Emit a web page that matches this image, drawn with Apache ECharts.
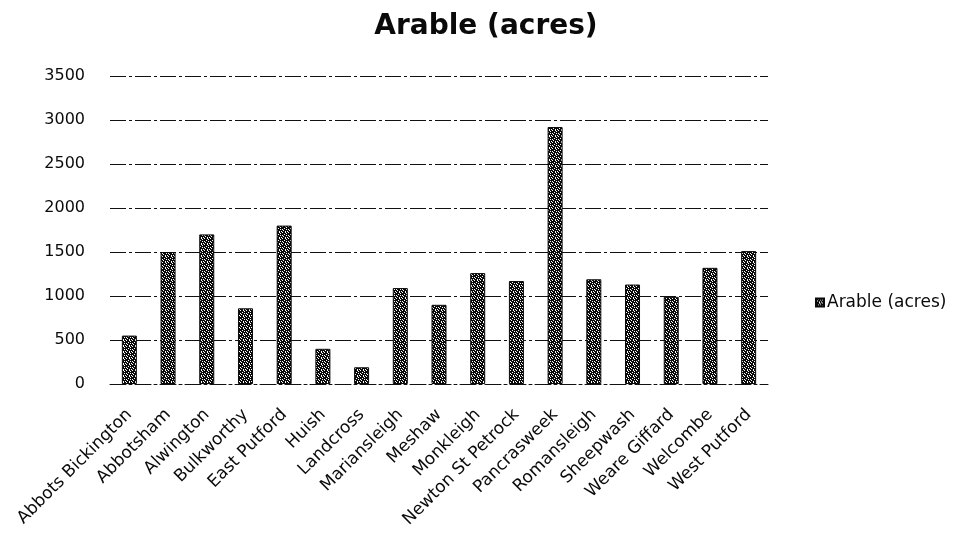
<!DOCTYPE html>
<html>
<head>
<meta charset="utf-8">
<script src="https://cdn.jsdelivr.net/npm/echarts@6/dist/echarts.min.js"></script>
<style>
  html, body { margin: 0; padding: 0; background: #fff; }
  #chart { width: 958px; height: 535px; }
</style>
</head>
<body>
<div id="chart"></div>
<script>
// Parishes and their arable land in acres
const parishes = [
  'Abbots Bickington', 'Abbotsham', 'Alwington', 'Bulkworthy', 'East Putford',
  'Huish', 'Landcross', 'Mariansleigh', 'Meshaw', 'Monkleigh',
  'Newton St Petrock', 'Pancrasweek', 'Romansleigh', 'Sheepwash',
  'Weare Giffard', 'Welcombe', 'West Putford'
];
const arableAcres = [
  550, 1500, 1700, 860, 1800,
  400, 190, 1090, 900, 1260,
  1170, 2920, 1190, 1130,
  990, 1320, 1510
];
const yTicks = [0, 500, 1000, 1500, 2000, 2500, 3000, 3500];
const seriesName = 'Arable (acres)';

// Speckled fill tile for the bars
function speckleTile() {
  const c = document.createElement('canvas');
  c.width = 6; c.height = 6;
  const ctx = c.getContext('2d');
  ctx.fillStyle = '#ffffff';
  ctx.fillRect(0, 0, 6, 6);
  ctx.fillStyle = '#0a0a0a';
  const dark = [
    '##.###',
    '.###.#',
    '#.####',
    '###.#.',
    '.##.##',
    '####.#'
  ];
  dark.forEach((row, y) => {
    for (let x = 0; x < row.length; x++) {
      if (row[x] === '#') ctx.fillRect(x, y, 1, 1);
    }
  });
  return c;
}
const barFill = { image: speckleTile(), repeat: 'repeat' };

const chart = echarts.init(document.getElementById('chart'), null, { renderer: 'canvas' });
const font = '"DejaVu Sans", Verdana, sans-serif';
const gridDash = [16, 3, 3, 3];

chart.setOption({
  animation: false,
  backgroundColor: '#ffffff',
  title: {
    text: seriesName,
    left: 481,
    top: 8,
    textAlign: 'center',
    textStyle: { fontFamily: font, fontSize: 28, fontWeight: 'bold', color: '#0a0a0a' }
  },
  legend: {
    data: [{ name: seriesName, icon: 'rect' }],
    orient: 'vertical',
    left: 810,
    top: 289,
    itemWidth: 8,
    itemHeight: 8,
    itemGap: 4,
    textStyle: { fontFamily: font, fontSize: 17, color: '#0a0a0a', padding: [0, 0, 0, -2] }
  },
  grid: { left: 110, right: 190, top: 76, bottom: 151, containLabel: false },
  xAxis: {
    type: 'category',
    data: parishes,
    axisTick: { show: false },
    axisLine: { show: true, lineStyle: { color: '#111', width: 1, type: gridDash } },
    axisLabel: {
      interval: 0,
      rotate: 45,
      margin: 28,
      fontFamily: font,
      fontSize: 17,
      color: '#0a0a0a'
    }
  },
  yAxis: {
    type: 'value',
    min: yTicks[0],
    max: yTicks[yTicks.length - 1],
    interval: yTicks[1] - yTicks[0],
    axisLine: { show: false },
    axisTick: { show: false },
    axisLabel: {
      fontFamily: font, fontSize: 16, color: '#0a0a0a', margin: 25,
      formatter: (v) => String(v)
    },
    splitLine: { show: true, lineStyle: { color: '#111', width: 1, type: gridDash } }
  },
  series: [{
    name: seriesName,
    type: 'bar',
    data: arableAcres,
    barWidth: 15,
    itemStyle: { color: barFill, borderColor: '#0a0a0a', borderWidth: 1 }
  }]
});
</script>
</body>
</html>
